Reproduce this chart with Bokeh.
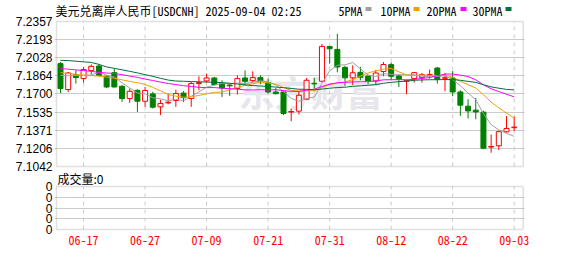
from bokeh.plotting import figure
from bokeh.models import (FixedTicker, Label, BoxAnnotation, ColumnDataSource, Range1d,
                          PrintfTickFormatter)
from bokeh.embed import file_html
from bokeh.resources import INLINE

# ---------------- data ----------------
title_text = "美元兑离岸人民币[USDCNH] 2025-09-04 02:25"
date_ticks = [3, 11, 19, 27, 35, 43, 51, 59]
date_labels = ["06-17", "06-27", "07-09", "07-21", "07-31", "08-12", "08-22", "09-03"]
price_ticks = [7.2357, 7.2193, 7.2028, 7.1864, 7.1700, 7.1535, 7.1371, 7.1206, 7.1042]
vol_ticks = [0, 1, 2, 3, 4]
vol_labels = ["0", "0", "0", "0", "0"]
vol_title = "成交量:0"
ma_names = ["5PMA", "10PMA", "20PMA", "30PMA"]

open_ = [7.1975, 7.1740, 7.1875, 7.1839, 7.1912, 7.1953, 7.1860, 7.1893, 7.1770, 7.1658,
         7.1733, 7.1634, 7.1700, 7.1583, 7.1619, 7.1640, 7.1708, 7.1658, 7.1794, 7.1818,
         7.1845, 7.1794, 7.1781, 7.1749, 7.1845, 7.1821, 7.1848, 7.1803, 7.1718, 7.1718,
         7.1535, 7.1544, 7.1652, 7.1797, 7.1815, 7.2131, 7.2104, 7.1941, 7.1846, 7.1896,
         7.1862, 7.1818, 7.1903, 7.1966, 7.1863, 7.1815, 7.1839, 7.1848, 7.1872, 7.1935,
         7.1842, 7.1845, 7.1718, 7.1589, 7.1553, 7.1535, 7.1218, 7.1230, 7.1357, 7.1394]
high = [7.1989, 7.1899, 7.1914, 7.1944, 7.1968, 7.1968, 7.1869, 7.1930, 7.1779, 7.1749,
        7.1742, 7.1763, 7.1720, 7.1648, 7.1704, 7.1738, 7.1726, 7.1809, 7.1860, 7.1884,
        7.1854, 7.1824, 7.1794, 7.1869, 7.1914, 7.1905, 7.1869, 7.1839, 7.1754, 7.1733,
        7.1568, 7.1718, 7.1845, 7.1845, 7.2154, 7.2135, 7.2246, 7.1955, 7.1959, 7.1946,
        7.1875, 7.1917, 7.1989, 7.1984, 7.1875, 7.1830, 7.1899, 7.1890, 7.1921, 7.1944,
        7.1890, 7.1908, 7.1733, 7.1652, 7.1664, 7.1548, 7.1331, 7.1367, 7.1499, 7.1494]
low = [7.1709, 7.1718, 7.1794, 7.1803, 7.1878, 7.1860, 7.1754, 7.1760, 7.1628, 7.1619,
       7.1537, 7.1583, 7.1568, 7.1508, 7.1607, 7.1583, 7.1625, 7.1583, 7.1733, 7.1803,
       7.1779, 7.1673, 7.1682, 7.1695, 7.1779, 7.1803, 7.1788, 7.1704, 7.1697, 7.1508,
       7.1453, 7.1514, 7.1643, 7.1749, 7.1806, 7.1975, 7.1896, 7.1774, 7.1781, 7.1824,
       7.1790, 7.1781, 7.1862, 7.1824, 7.1763, 7.1697, 7.1803, 7.1803, 7.1839, 7.1794,
       7.1724, 7.1679, 7.1501, 7.1478, 7.1471, 7.1198, 7.1167, 7.1191, 7.1349, 7.1363]
close = [7.1749, 7.1890, 7.1848, 7.1921, 7.1950, 7.1869, 7.1763, 7.1763, 7.1658, 7.1724,
         7.1634, 7.1731, 7.1580, 7.1613, 7.1625, 7.1704, 7.1666, 7.1794, 7.1803, 7.1845,
         7.1785, 7.1754, 7.1774, 7.1839, 7.1815, 7.1848, 7.1818, 7.1718, 7.1702, 7.1523,
         7.1541, 7.1688, 7.1824, 7.1791, 7.2131, 7.2110, 7.1944, 7.1846, 7.1892, 7.1851,
         7.1818, 7.1890, 7.1967, 7.1860, 7.1833, 7.1820, 7.1893, 7.1875, 7.1877, 7.1833,
         7.1847, 7.1718, 7.1598, 7.1546, 7.1537, 7.1207, 7.1224, 7.1358, 7.1387, 7.1399]

ma5 = [7.1868, 7.1866, 7.1868, 7.1870, 7.1872, 7.1896, 7.1870, 7.1853, 7.1801, 7.1755,
       7.1708, 7.1702, 7.1665, 7.1656, 7.1637, 7.1651, 7.1638, 7.1680, 7.1718, 7.1762,
       7.1779, 7.1796, 7.1792, 7.1799, 7.1793, 7.1806, 7.1819, 7.1808, 7.1780, 7.1722,
       7.1660, 7.1634, 7.1656, 7.1673, 7.1795, 7.1909, 7.1960, 7.1964, 7.1985, 7.1929,
       7.1870, 7.1859, 7.1884, 7.1877, 7.1874, 7.1874, 7.1875, 7.1856, 7.1860, 7.1860,
       7.1865, 7.1830, 7.1775, 7.1708, 7.1649, 7.1521, 7.1422, 7.1374, 7.1343, 7.1315]
ma10 = [7.1893, 7.1886, 7.1878, 7.1870, 7.1866, 7.1862, 7.1853, 7.1842, 7.1828, 7.1814,
        7.1802, 7.1786, 7.1759, 7.1729, 7.1696, 7.1680, 7.1670, 7.1673, 7.1687, 7.1700,
        7.1715, 7.1717, 7.1736, 7.1759, 7.1778, 7.1792, 7.1808, 7.1800, 7.1790, 7.1758,
        7.1733, 7.1727, 7.1732, 7.1727, 7.1758, 7.1785, 7.1797, 7.1810, 7.1829, 7.1862,
        7.1890, 7.1910, 7.1924, 7.1931, 7.1901, 7.1872, 7.1867, 7.1870, 7.1868, 7.1867,
        7.1870, 7.1852, 7.1815, 7.1784, 7.1754, 7.1693, 7.1626, 7.1575, 7.1526, 7.1482]
ma20 = [7.1930, 7.1925, 7.1918, 7.1912, 7.1905, 7.1895, 7.1890, 7.1885, 7.1875, 7.1862,
        7.1850, 7.1835, 7.1822, 7.1808, 7.1795, 7.1785, 7.1775, 7.1768, 7.1760, 7.1757,
        7.1758, 7.1752, 7.1748, 7.1744, 7.1737, 7.1736, 7.1739, 7.1736, 7.1739, 7.1729,
        7.1724, 7.1722, 7.1734, 7.1743, 7.1768, 7.1789, 7.1802, 7.1805, 7.1809, 7.1810,
        7.1811, 7.1818, 7.1828, 7.1829, 7.1830, 7.1828, 7.1832, 7.1840, 7.1849, 7.1864,
        7.1880, 7.1881, 7.1870, 7.1858, 7.1828, 7.1783, 7.1747, 7.1722, 7.1697, 7.1674]
ma30 = [7.2005, 7.2003, 7.1997, 7.1991, 7.1986, 7.1968, 7.1945, 7.1932, 7.1919, 7.1905,
        7.1891, 7.1875, 7.1860, 7.1842, 7.1826, 7.1817, 7.1815, 7.1812, 7.1810, 7.1808,
        7.1806, 7.1803, 7.1797, 7.1790, 7.1782, 7.1776, 7.1772, 7.1768, 7.1762, 7.1757,
        7.1750, 7.1743, 7.1742, 7.1738, 7.1744, 7.1752, 7.1758, 7.1761, 7.1769, 7.1773,
        7.1779, 7.1784, 7.1797, 7.1805, 7.1812, 7.1816, 7.1824, 7.1827, 7.1829, 7.1829,
        7.1831, 7.1830, 7.1824, 7.1814, 7.1805, 7.1783, 7.1764, 7.1752, 7.1741, 7.1737]

# ---------------- styling / layout ----------------
RED = "#ff0000"
GREEN = "#008000"
MA_COLORS = ["#a0a0a0", "#f0a000", "#ff00ff", "#00703c"]
GRID = "#cccccc"
BORDER = "#999999"
CJK_MONO = "'Noto Sans Mono CJK SC', 'Noto Sans CJK SC', monospace"
CJK = "'Noto Sans CJK SC', sans-serif"
NUM_FONT = "'Liberation Sans', Arial, sans-serif"

W, H = 578, 276
FR_L, FR_R, FR_T, FR_B = 54, 524, 0, 231     # plot frame in canvas pixels
BOX_L, BOX_R = 56, 522.7                     # panel box left/right
MAIN_T, MAIN_B = 21, 166                     # price panel top/bottom
VOL_T, VOL_B = 186, 229                      # volume panel top/bottom
IDX_L, IDX_R = -0.52, 60.17                  # candle index at panel box edges

sx = (BOX_R - BOX_L) / (IDX_R - IDX_L)
x_start = IDX_L - (BOX_L - FR_L) / sx
x_end = IDX_R + (FR_R - BOX_R) / sx
pmax, pmin = price_ticks[0], price_ticks[-1]
sy = (MAIN_B - MAIN_T) / (pmax - pmin)
y_end = pmax + (MAIN_T - FR_T) / sy
y_start = pmin - (FR_B - MAIN_B) / sy
vol_top = y_end - (VOL_T - FR_T) / sy
vol_bot = y_end - (VOL_B - FR_T) / sy
vmax = vol_ticks[-1]
vol_pos = [vol_bot + (vol_top - vol_bot) * t / vmax for t in vol_ticks]
FH = FR_B - FR_T


def sxp(X):   # canvas px -> frame screen x
    return X - FR_L


def syp(Y):   # canvas px -> frame screen y (upwards)
    return FR_B - Y


idx = list(range(len(close)))
is_up = [c >= o for o, c in zip(open_, close)]
src = ColumnDataSource(dict(
    x=idx, high=high, low=low,
    top=[max(o, c) for o, c in zip(open_, close)],
    bottom=[min(o, c) for o, c in zip(open_, close)],
    line=[RED if u else GREEN for u in is_up],
    fill=["#ffffff" if u else GREEN for u in is_up],
))

p = figure(width=W, height=H, x_range=Range1d(x_start, x_end), y_range=Range1d(y_start, y_end),
           output_backend="svg", toolbar_location=None,
           min_border_left=FR_L, min_border_right=W - FR_R, min_border_top=FR_T,
           min_border_bottom=H - FR_B)
p.outline_line_color = None
p.background_fill_color = "#ffffff"
p.border_fill_color = "#ffffff"

# y axis: price labels + volume labels on one axis
p.yaxis.ticker = FixedTicker(ticks=price_ticks + vol_pos)
p.yaxis.formatter = PrintfTickFormatter(format="%.4f")
ov = {t: f"{t:.4f}" for t in price_ticks}
ov.update({pos: lab for pos, lab in zip(vol_pos, vol_labels)})
p.yaxis.major_label_overrides = ov
p.ygrid.ticker = FixedTicker(ticks=price_ticks[1:-1] + vol_pos[1:-1])
p.ygrid.grid_line_color = GRID
p.xgrid.visible = False
p.xaxis.ticker = FixedTicker(ticks=date_ticks)
p.xaxis.major_label_overrides = {t: s for t, s in zip(date_ticks, date_labels)}
for ax in (p.xaxis, p.yaxis):
    ax.axis_line_color = None
    ax.major_tick_line_color = None
    ax.minor_tick_line_color = None
    ax.major_tick_out = 0
    ax.major_tick_in = 0
p.yaxis.major_label_standoff = 2
p.yaxis.major_label_text_font = NUM_FONT
p.yaxis.major_label_text_font_size = "12px"
p.yaxis.major_label_text_color = "#000000"
p.xaxis.major_label_standoff = 4
p.xaxis.major_label_text_font = CJK_MONO
p.xaxis.major_label_text_font_size = "12px"
p.xaxis.major_label_text_color = RED

# watermark
p.add_layout(Label(x=sxp(310), y=syp(90), x_units="screen", y_units="screen", text="东方财富",
                   text_align="center", text_baseline="middle", text_font_size="36px",
                   text_font=CJK, text_font_style="bold",
                   text_color="#e6e6ec", level="underlay"))

# vertical dashed grid lines in both panels
n = len(date_ticks)
p.segment(x0=date_ticks, x1=date_ticks, y0=[pmin] * n, y1=[pmax] * n,
          line_color=GRID, line_dash="4 4", line_width=1)
p.segment(x0=date_ticks, x1=date_ticks, y0=[vol_bot] * n, y1=[vol_top] * n,
          line_color=GRID, line_dash="4 4", line_width=1)

# candles
p.segment(x0="x", y0="low", x1="x", y1="high", line_color="line", line_width=1, source=src)
p.vbar(x="x", width=0.65, top="top", bottom="bottom", fill_color="fill", line_color="line",
       line_width=1, source=src)
for ma, col in zip([ma5, ma10, ma20, ma30], MA_COLORS):
    p.line(idx, ma, line_color=col, line_width=1)

# panel borders
for b, t in ((pmin, pmax), (vol_bot, vol_top)):
    p.add_layout(BoxAnnotation(left=IDX_L, right=IDX_R, bottom=b, top=t, fill_alpha=0,
                               line_color=BORDER, line_width=1.5))

# title and MA legend
p.add_layout(Label(x=sxp(55), y=syp(9.5), x_units="screen", y_units="screen", text=title_text,
                   text_baseline="middle", text_font=CJK_MONO, text_font_size="12px",
                   text_color="#000000"))
leg_text_x = [338, 380, 426, 472]
leg_box_x = [365, 413, 460, 505]
for name, col, tx, bx in zip(ma_names, MA_COLORS, leg_text_x, leg_box_x):
    p.add_layout(Label(x=sxp(tx), y=syp(9.5), x_units="screen", y_units="screen", text=name,
                       text_baseline="middle", text_font=CJK_MONO, text_font_size="12px",
                       text_color="#000000"))
    p.add_layout(BoxAnnotation(left=sxp(bx), right=sxp(bx + 6), bottom=syp(10.5), top=syp(6.5),
                               left_units="screen", right_units="screen",
                               bottom_units="screen", top_units="screen",
                               fill_color=col, fill_alpha=1.0, line_color=None))

# volume panel title
p.add_layout(Label(x=sxp(57), y=syp(178), x_units="screen", y_units="screen", text=vol_title,
                   text_baseline="middle", text_font=CJK, text_font_size="12px",
                   text_color="#000000"))

open("out.html", "w").write(file_html(p, INLINE))
